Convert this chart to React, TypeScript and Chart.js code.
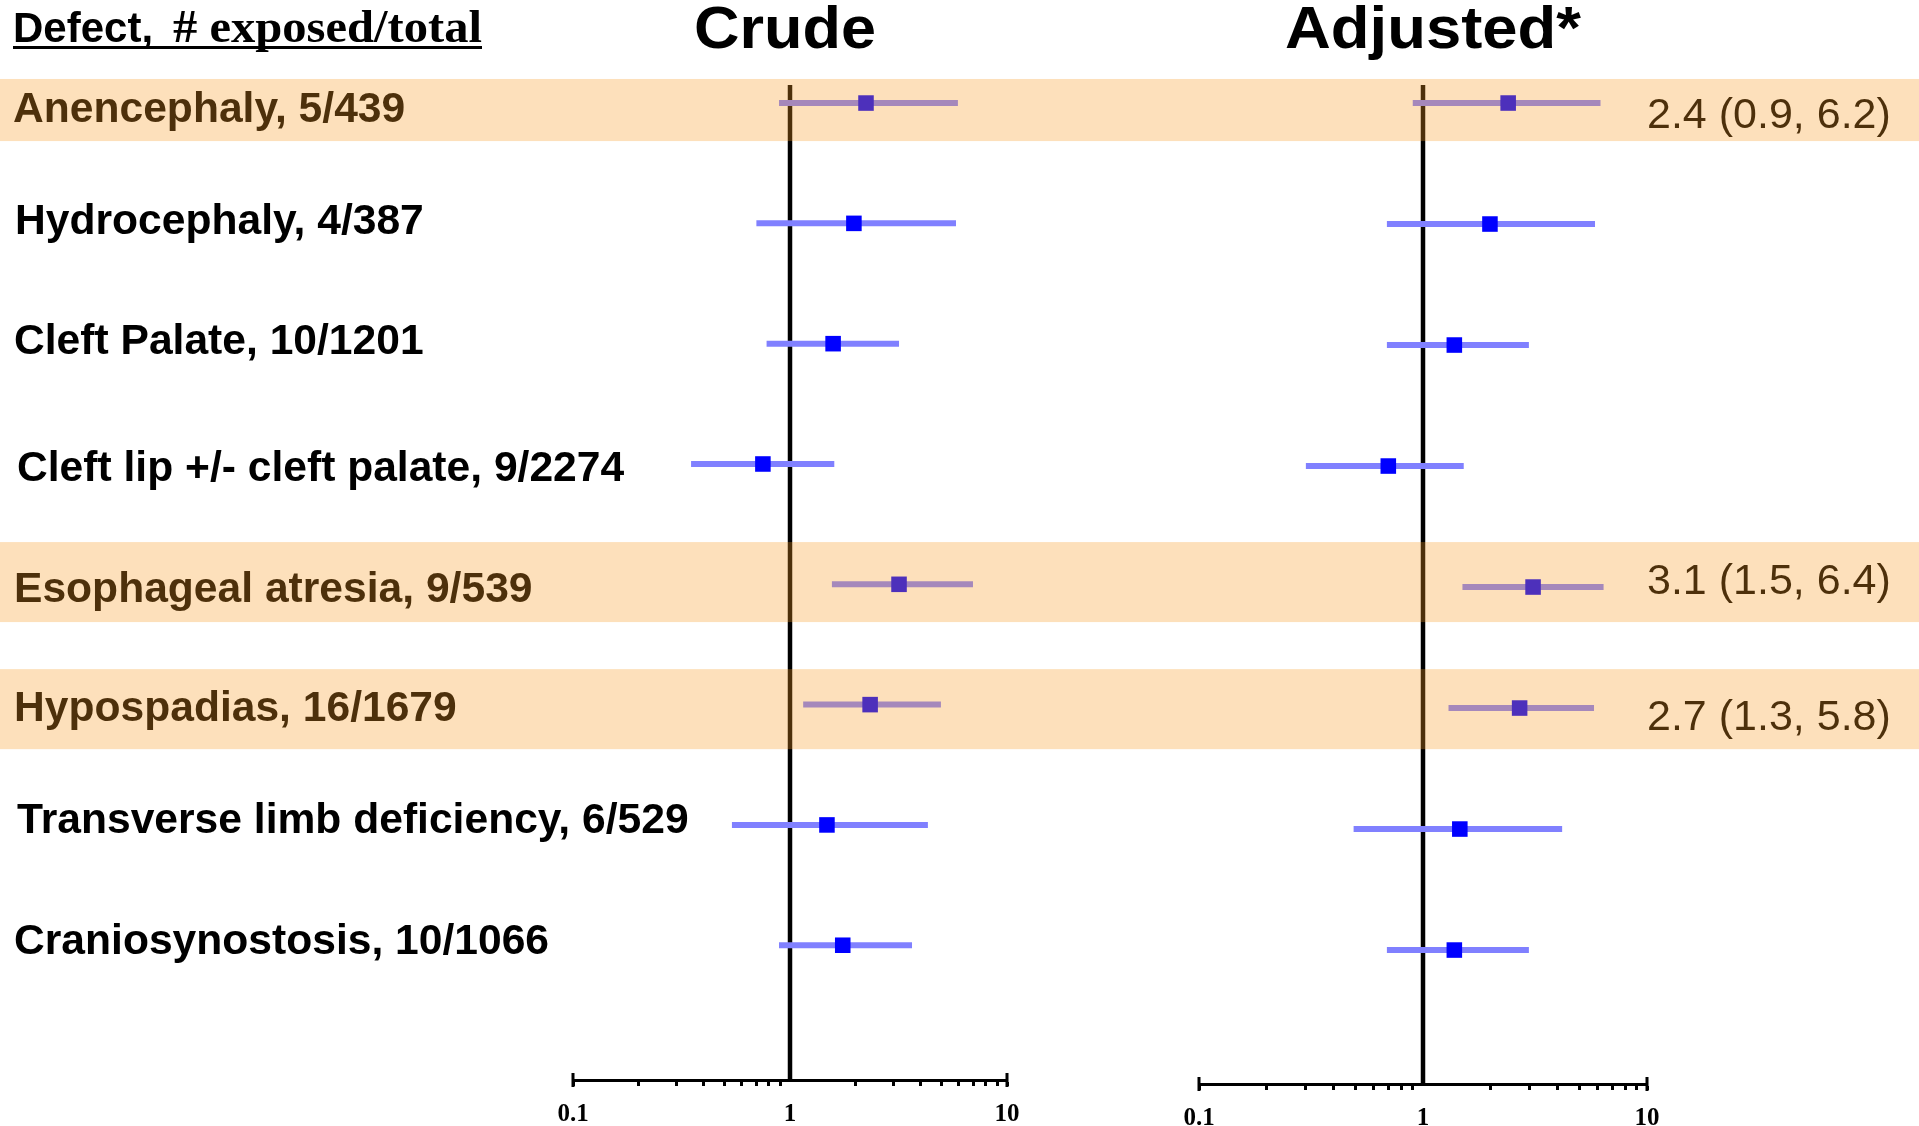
import React, { useEffect, useRef } from 'react';
import { Chart, registerables } from 'chart.js';

Chart.register(...registerables);

// ---------------- data ----------------
const defects = [
  'Anencephaly, 5/439',
  'Hydrocephaly, 4/387',
  'Cleft Palate, 10/1201',
  'Cleft lip +/- cleft palate, 9/2274',
  'Esophageal atresia, 9/539',
  'Hypospadias, 16/1679',
  'Transverse limb deficiency, 6/529',
  'Craniosynostosis, 10/1066',
];

const crudeOR = [2.24, 1.97, 1.58, 0.75, 3.18, 2.34, 1.48, 1.75];
const crudeLower = [0.89, 0.7, 0.78, 0.35, 1.56, 1.15, 0.54, 0.89];
const crudeUpper = [5.94, 5.82, 3.18, 1.6, 6.97, 4.96, 4.32, 3.65];

const adjOR = [2.4, 1.99, 1.38, 0.7, 3.1, 2.7, 1.46, 1.38];
const adjLower = [0.9, 0.69, 0.69, 0.3, 1.5, 1.3, 0.49, 0.69];
const adjUpper = [6.2, 5.86, 2.97, 1.52, 6.4, 5.8, 4.18, 2.97];

const highlightRows = [0, 4, 5];
const highlightNotes = ['2.4 (0.9, 6.2)', '3.1 (1.5, 6.4)', '2.7 (1.3, 5.8)'];

const tickValues = [0.1, 0.2, 0.3, 0.4, 0.5, 0.6, 0.7, 0.8, 0.9, 1, 2, 3, 4, 5, 6, 7, 8, 9, 10];
const labeledTicks = [0.1, 1, 10];
const nullValue = 1;

// ---------------- layout / style ----------------
const W = 1919;
const H = 1126;
const SPLIT = 1100;
const BAND_COLOR = 'rgba(248,156,34,0.31)';
const BAND_SPANS = [
  [-0.2, 0.316],
  [-0.351, 0.314],
  [-0.295, 0.37],
];
const LABEL_X = [13, 15, 14, 17, 14, 14, 17, 14];
const LABEL_SHIFT = [19, 11, 10, 17, 18, 16, 8, 9];
const NOTE_SHIFT = [25, 7, 22];

function fitText(ctx: CanvasRenderingContext2D, text: string, x: number, y: number, width: number, font: string, align: 'left' | 'center' = 'left') {
  ctx.save();
  ctx.font = font;
  ctx.textAlign = 'left';
  ctx.textBaseline = 'alphabetic';
  const w = ctx.measureText(text).width;
  const s = width / w;
  const x0 = align === 'center' ? x - width / 2 : x;
  ctx.translate(x0, y);
  ctx.scale(s, 1);
  ctx.fillText(text, 0, 0);
  ctx.restore();
}

function buildDatasets(or: number[], lo: number[], hi: number[], yMin: number, yMax: number) {
  const ds: any[] = [];
  ds.push({
    data: or.map((v, i) => ({ x: v, y: i })),
    pointStyle: 'rect',
    pointRadius: 11,
    backgroundColor: '#0000ff',
    borderColor: '#0000ff',
    borderWidth: 0,
    order: 0,
  });
  lo.forEach((l, i) => {
    ds.push({
      data: [
        { x: l, y: i },
        { x: hi[i], y: i },
      ],
      showLine: true,
      borderColor: '#8080ff',
      borderWidth: 6,
      pointRadius: 0,
      order: 1,
    });
  });
  ds.push({
    data: [
      { x: nullValue, y: yMin },
      { x: nullValue, y: yMax },
    ],
    showLine: true,
    borderColor: '#000000',
    borderWidth: 4.5,
    pointRadius: 0,
    order: 2,
  });
  return ds;
}

function xScale(axisHeight: number) {
  return {
    type: 'logarithmic',
    position: 'bottom',
    min: 0.1,
    max: 10,
    afterBuildTicks: (s: any) => {
      s.ticks = tickValues.map((v) => ({ value: v }));
    },
    afterFit: (s: any) => {
      s.height = axisHeight;
    },
    border: { display: true, color: '#000000', width: 3 },
    grid: {
      display: true,
      drawOnChartArea: false,
      drawTicks: true,
      tickLength: 6,
      tickWidth: 3,
      tickColor: (c: any) => (c.tick && Math.abs(c.tick.value - 1) < 1e-9 ? 'rgba(0,0,0,0)' : '#000000'),
    },
    ticks: {
      autoSkip: false,
      maxRotation: 0,
      minRotation: 0,
      padding: 14,
      color: '#000000',
      font: { family: 'Liberation Serif', weight: 'bold', size: 25 },
      callback: (v: any) => (labeledTicks.some((t) => Math.abs(t - Number(v)) < 1e-9) ? String(v) : ''),
    },
  };
}

function drawCaps(chart: any) {
  const ctx = chart.ctx;
  const xs = chart.scales.x;
  const y0 = chart.chartArea.bottom;
  ctx.fillStyle = '#000000';
  [xs.min, xs.max].forEach((v: number) => {
    const px = xs.getPixelForValue(v);
    ctx.fillRect(px - 1.5, y0 - 7, 3, 14);
  });
}

export default function App() {
  const refA = useRef<HTMLCanvasElement>(null);
  const refB = useRef<HTMLCanvasElement>(null);

  useEffect(() => {
    const shared: { bands: number[][] } = { bands: [] };

    const yMinA = -0.15;
    const yMaxA = 8.12;
    const yMinB = -0.149;
    const yMaxB = 8.107;

    const crudePlugin = {
      id: 'crudeDecor',
      afterDraw(chart: any) {
        const ctx: CanvasRenderingContext2D = chart.ctx;
        const ys = chart.scales.y;
        ctx.save();
        drawCaps(chart);
        ctx.fillStyle = '#000000';
        // header
        ctx.font = 'bold 42px "Liberation Sans"';
        ctx.textAlign = 'left';
        ctx.textBaseline = 'alphabetic';
        ctx.fillText('Defect,', 13, 42);
        fitText(ctx, '# exposed/total', 173, 42, 309, 'bold 46px "Liberation Serif"');
        ctx.fillRect(13, 46, 469, 3);
        // title
        fitText(ctx, 'Crude', 785, 48, 182, 'bold 60px "Liberation Sans"', 'center');
        // row labels
        ctx.font = 'bold 42.6px "Liberation Sans"';
        ctx.textAlign = 'left';
        defects.forEach((d, i) => {
          ctx.fillText(d, LABEL_X[i], ys.getPixelForValue(i) + LABEL_SHIFT[i]);
        });
        // highlight bands
        shared.bands = highlightRows.map((r, k) => {
          const top = ys.getPixelForValue(r + BAND_SPANS[k][0]);
          const bot = ys.getPixelForValue(r + BAND_SPANS[k][1]);
          return [top, bot];
        });
        ctx.fillStyle = BAND_COLOR;
        shared.bands.forEach(([t, b]) => ctx.fillRect(0, t, chart.width, b - t));
        ctx.restore();
      },
    };

    const adjPlugin = {
      id: 'adjDecor',
      afterDraw(chart: any) {
        const ctx: CanvasRenderingContext2D = chart.ctx;
        const ys = chart.scales.y;
        ctx.save();
        drawCaps(chart);
        ctx.fillStyle = '#000000';
        fitText(ctx, 'Adjusted*', 333, 48, 296, 'bold 60px "Liberation Sans"', 'center');
        ctx.font = '43px "Liberation Sans"';
        ctx.textAlign = 'left';
        ctx.textBaseline = 'alphabetic';
        highlightRows.forEach((r, k) => {
          ctx.fillText(highlightNotes[k], 547, ys.getPixelForValue(r) + NOTE_SHIFT[k]);
        });
        ctx.fillStyle = BAND_COLOR;
        shared.bands.forEach(([t, b]) => ctx.fillRect(0, t, chart.width, b - t));
        ctx.restore();
      },
    };

    const common = (yMin: number, yMax: number, axisHeight: number, padding: any) => ({
      animation: false,
      responsive: false,
      maintainAspectRatio: false,
      events: [],
      layout: { padding },
      plugins: { legend: { display: false }, tooltip: { enabled: false }, title: { display: false } },
      scales: {
        x: xScale(axisHeight),
        y: { type: 'linear', display: false, min: yMin, max: yMax, reverse: true },
      },
    });

    const a = new Chart(refA.current as HTMLCanvasElement, {
      type: 'scatter',
      data: { datasets: buildDatasets(crudeOR, crudeLower, crudeUpper, yMinA, yMaxA) },
      options: common(yMinA, yMaxA, 46, { left: 573, right: SPLIT - 1007, top: 85, bottom: 0 }) as any,
      plugins: [crudePlugin],
    } as any);

    const b = new Chart(refB.current as HTMLCanvasElement, {
      type: 'scatter',
      data: { datasets: buildDatasets(adjOR, adjLower, adjUpper, yMinB, yMaxB) },
      options: common(yMinB, yMaxB, 42, { left: 1199 - SPLIT, right: W - 1647, top: 85, bottom: 0 }) as any,
      plugins: [adjPlugin],
    } as any);

    return () => {
      a.destroy();
      b.destroy();
    };
  }, []);

  return (
    <div style={{ position: 'absolute', left: 0, top: 0, width: W, height: H, background: '#ffffff', overflow: 'hidden' }}>
      <canvas ref={refA} width={SPLIT} height={H} style={{ position: 'absolute', left: 0, top: 0, width: SPLIT, height: H }} />
      <canvas ref={refB} width={W - SPLIT} height={H} style={{ position: 'absolute', left: SPLIT, top: 0, width: W - SPLIT, height: H }} />
    </div>
  );
}
